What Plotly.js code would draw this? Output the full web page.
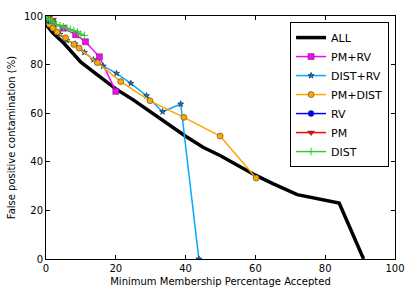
<!DOCTYPE html>
<html>
<head>
<meta charset="utf-8">
<script src="https://cdn.plot.ly/plotly-3.0.1.min.js"></script>
<style>
html,body{margin:0;padding:0;background:#fff;}
#chart{width:415px;height:297px;}
</style>
</head>
<body>
<div id="chart"></div>
<script>
const allX = [0, 2, 5, 10, 15, 20, 25, 30, 35, 40, 45, 50, 55, 60, 65, 72, 84, 91];
const allY = [96.5, 93, 89, 81, 75.5, 70, 65.5, 60.5, 55.5, 50.5, 46, 42.5, 38.5, 34.5, 31, 26.5, 23, 0];

const pmrvX = [0, 2, 5, 8.5, 11.3, 15.3, 20];
const pmrvY = [99, 97, 95, 92.3, 89.4, 83.2, 69];

const distrvX = [0, 1, 2, 4, 6, 8.3, 11, 13.6, 16.4, 20.2, 24.3, 28.8, 33.4, 38.6, 43.8];
const distrvY = [98, 96.5, 95, 92.5, 90, 88.5, 85, 82, 79.4, 76.4, 72.3, 67.2, 60.6, 63.8, 0];

const pmdistX = [1, 2, 3.2, 5.6, 8, 9.5, 14.7, 21.4, 29.8, 39.5, 49.9, 60.2];
const pmdistY = [96.5, 95, 93.4, 91, 88.3, 86.8, 80.8, 73, 65.1, 58.3, 50.6, 33.3];

const rvX = [0, 0.5, 1];
const rvY = [100, 99, 98];

const pmX = [0, 1, 2];
const pmY = [100, 99.5, 98.5];

const distX = [0, 0.5, 1, 1.5, 2, 3, 4, 5, 6, 7, 8, 9, 10, 11];
const distY = [100, 99, 98.5, 98, 97.5, 96.5, 96, 95.5, 95, 94.5, 94, 93.5, 92.5, 92];

const edge = {color: '#444', width: 0.6};
const traces = [
  {name: 'ALL', x: allX, y: allY, mode: 'lines', line: {color: '#000', width: 3.5}},
  {name: 'PM+RV', x: pmrvX, y: pmrvY, mode: 'lines+markers', line: {color: '#ff00ff', width: 1.5},
   marker: {symbol: 'square', size: 6, color: '#ff00ff', line: edge}},
  {name: 'DIST+RV', x: distrvX, y: distrvY, mode: 'lines+markers', line: {color: '#00a8ff', width: 1.5},
   marker: {symbol: 'star', size: 4.5, color: '#2a6fa8', line: {color: '#1a3f6a', width: 0.8}}},
  {name: 'PM+DIST', x: pmdistX, y: pmdistY, mode: 'lines+markers', line: {color: '#ffa500', width: 1.5},
   marker: {symbol: 'circle', size: 6, color: '#ffa500', line: edge}},
  {name: 'RV', x: rvX, y: rvY, mode: 'lines+markers', line: {color: '#0000ff', width: 1.5},
   marker: {symbol: 'circle', size: 6, color: '#0000ff', line: edge}},
  {name: 'PM', x: pmX, y: pmY, mode: 'lines+markers', line: {color: '#ff0000', width: 1.5},
   marker: {symbol: 'triangle-down', size: 6, color: '#ff0000', line: edge}},
  {name: 'DIST', x: distX, y: distY, mode: 'lines+markers', line: {color: '#33cc33', width: 1.5},
   marker: {symbol: 'cross-thin', size: 5.5, color: '#33cc33', line: {color: '#33cc33', width: 1}}}
];

const axisCommon = {
  range: [0, 100], dtick: 20, showgrid: false, zeroline: false,
  showline: true, linecolor: '#000', linewidth: 1, mirror: 'ticks',
  ticks: 'inside', ticklen: 4, tickcolor: '#000', tickwidth: 1,
  tickfont: {family: 'DejaVu Sans', size: 10, color: '#000'}
};

const layout = {
  width: 415, height: 297,
  margin: {l: 46, r: 20, t: 16, b: 38},
  paper_bgcolor: '#fff', plot_bgcolor: '#fff',
  font: {family: 'DejaVu Sans', color: '#000'},
  showlegend: true,
  legend: {x: 0.983, y: 0.975, xanchor: 'right', yanchor: 'top',
    bordercolor: '#000', borderwidth: 1, bgcolor: '#fff',
    font: {family: 'DejaVu Sans', size: 11, color: '#000'}, tracegroupgap: 0},
  xaxis: Object.assign({}, axisCommon, {
    title: {text: 'Minimum Membership Percentage Accepted', font: {family: 'DejaVu Sans', size: 10}, standoff: 4}
  }),
  yaxis: Object.assign({}, axisCommon, {
    title: {text: 'False positive contamination (%)', font: {family: 'DejaVu Sans', size: 10}, standoff: 6}
  })
};

Plotly.newPlot('chart', traces, layout, {displayModeBar: false, staticPlot: true});
</script>
</body>
</html>
